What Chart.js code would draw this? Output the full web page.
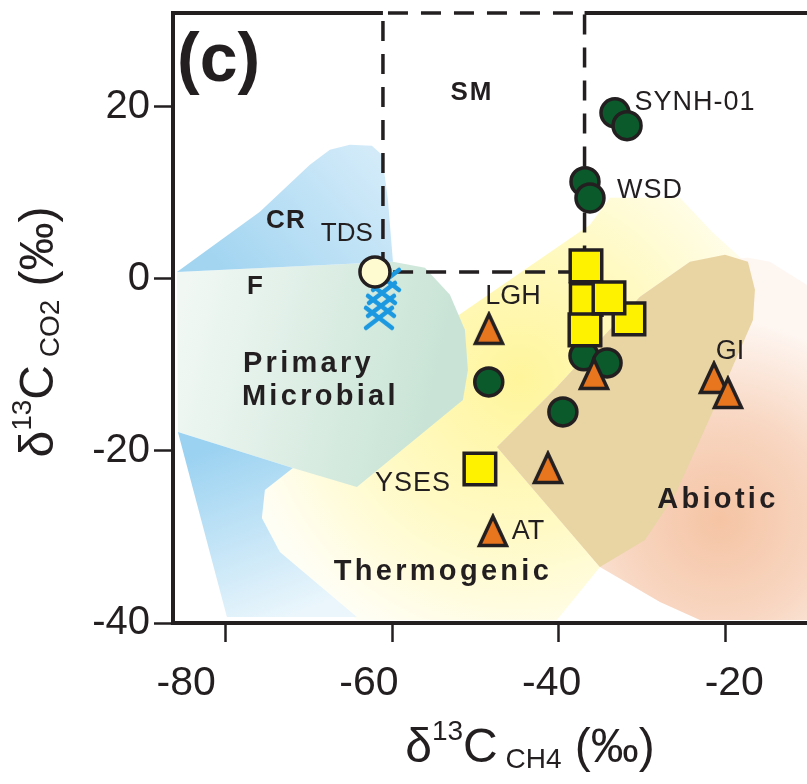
<!DOCTYPE html>
<html lang="en">
<head>
<meta charset="UTF-8">
<title>δ13C-CO2 vs δ13C-CH4 (c)</title>
<script src="https://cdn.jsdelivr.net/npm/chart.js"></script>
<style>
  html, body { margin: 0; padding: 0; background: #fff; }
</style>
</head>
<body>
<canvas id="grafico" width="807" height="784"></canvas>

<script>
// ---- axes ----
const xMin = -86.3, xMax = -10.2;
// the tick labels of the original figure sit slightly apart from the tick marks
const xLabelMin = -81.45, xLabelMax = -12.04;
const yMin = -40, yMax = 30.9;
const xTicks = [-80, -60, -40, -20];
const yTicks = [-40, -20, 0, 20];

// ---- samples: δ13C-CH4 (x) / δ13C-CO2 (y) ----
const circlesX = [-33.25, -31.8, -36.85, -36.25, -36.97, -34.2, -48.4, -39.5];
const circlesY = [19.3, 17.8, 11.3, 9.4, -8.95, -9.77, -11.98, -15.47];

const squaresX = [-36.7, -36.73, -36.85, -31.57, -33.97, -49.46];
const squaresY = [-2.4, 1.51, -5.93, -4.65, -2.21, -22.1];

const trianglesX = [-48.38, -35.77, -41.3, -47.9, -21.37, -19.69];
const trianglesY = [-5.81, -11.05, -21.98, -29.3, -11.51, -13.26];

const tdsX = [-62.06];
const tdsY = [0.81];

const crossX = [-60.74, -61.22, -61.34, -61.58];
const crossY = [-0.12, -1.63, -3.14, -4.53];

// ---- genetic fields (polygons) ----
const crX = [-85.83, -75.87, -69.87, -67.47, -65.07, -62.43, -61.22, -60.5, -59.9];
const crY = [0.81, 7.79, 13.26, 15.0, 15.58, 15.47, 14.42, 9.19, 1.98];

const crLowX = [-85.71, -71.91, -75.27, -75.63, -73.47, -64.23, -79.83];
const crLowY = [-17.79, -21.98, -24.53, -27.79, -31.74, -39.3, -39.3];

const microbialX = [-85.83, -59.9, -56.06, -53.06, -51.26, -50.9, -51.5, -64.23, -71.91, -85.71];
const microbialY = [0.81, 1.98, 1.28, -1.86, -5.93, -10.58, -14.07, -24.19, -21.98, -17.79];

const thermoX = [-73.47, -75.63, -75.27, -71.07, -54.26, -36.25, -33.85, -25.45, -21.61, -17.65, -23.05, -35.05, -40.22, -64.23];
const thermoY = [-31.74, -27.79, -24.53, -21.28, -5.7, 6.28, 9.42, 9.42, 5.47, 1.98, -14.07, -33.49, -39.65, -39.65];

const overlapX = [-47.42, -40.22, -30.25, -24.25, -20.05, -17.29, -16.45, -16.69, -18.25, -19.81, -23.05, -26.05, -29.65, -35.05];
const overlapY = [-19.53, -12.56, -2.09, 1.98, 2.79, 1.98, -1.28, -4.77, -8.26, -11.74, -18.72, -25.12, -30.35, -33.49];

const abioticX = [-35.05, -27.85, -23.05, -10.2, -10.2, -14.65, -17.29, -24.25, -30.25, -40.22, -47.42];
const abioticY = [-33.49, -37.56, -39.65, -39.65, -0.7, 1.98, 2.44, 1.98, -2.09, -12.56, -19.53];

// dashed SM box
const smX = [-61.1, -61.1, -36.9, -36.9, -61.1];
const smY = [0.8, 30.9, 30.9, 0.8, 0.8];

const C = '#231f20';
const FONT = '"Liberation Sans", Arial, sans-serif';
Chart.defaults.font.family = FONT;

const pts = (xs, ys) => xs.map((v, i) => ({ x: v, y: ys[i] }));

function gradLinear(x0, y0, x1, y1, stops) {
  return function (c) {
    const ch = c.chart;
    if (!ch.chartArea) return stops[0][1];
    const sx = ch.scales.x, sy = ch.scales.y;
    const g = ch.ctx.createLinearGradient(sx.getPixelForValue(x0), sy.getPixelForValue(y0),
                                          sx.getPixelForValue(x1), sy.getPixelForValue(y1));
    stops.forEach(s => g.addColorStop(s[0], s[1]));
    return g;
  };
}

function gradRadial(cx, cy, r, stops) {
  return function (c) {
    const ch = c.chart;
    if (!ch.chartArea) return stops[0][1];
    const sx = ch.scales.x, sy = ch.scales.y;
    const px = sx.getPixelForValue(cx), py = sy.getPixelForValue(cy);
    const rp = Math.abs(sx.getPixelForValue(cx + r) - px);
    const g = ch.ctx.createRadialGradient(px, py, 0, px, py, rp);
    stops.forEach(s => g.addColorStop(s[0], s[1]));
    return g;
  };
}

function region(label, xs, ys, color, order) {
  return {
    type: 'line', label: label, data: pts(xs, ys), xAxisID: 'x', yAxisID: 'y',
    fill: 'shape', backgroundColor: color, borderColor: 'rgba(0,0,0,0)', borderWidth: 0,
    pointRadius: 0, tension: 0, order: order
  };
}

// custom markers
function triangleImg() {
  const cv = document.createElement('canvas');
  cv.width = 34; cv.height = 36;
  const g = cv.getContext('2d');
  g.beginPath();
  g.moveTo(17, 3.5); g.lineTo(30.5, 32.5); g.lineTo(3.5, 32.5); g.closePath();
  g.fillStyle = '#e8761e'; g.fill();
  g.lineWidth = 3.5; g.strokeStyle = C; g.lineJoin = 'miter'; g.stroke();
  return cv;
}
function crossImg() {
  const cv = document.createElement('canvas');
  cv.width = 34; cv.height = 28;
  const g = cv.getContext('2d');
  g.strokeStyle = '#1b98e0'; g.lineWidth = 4.5; g.lineCap = 'round';
  g.beginPath();
  g.moveTo(4, 4); g.lineTo(30, 24);
  g.moveTo(30, 4); g.lineTo(4, 24);
  g.stroke();
  return cv;
}

// text written into the plot (data units)
const notes = [
  { t: 'SM', x: -50.42, y: 21.63, size: 26, bold: true, sp: 2 },
  { t: 'CR', x: -72.75, y: 6.74, size: 26, bold: true, sp: 1 },
  { t: 'TDS', x: -65.43, y: 5.23, size: 26 },
  { t: 'F', x: -76.47, y: -0.93, size: 26, bold: true },
  { t: 'Primary', x: -77.91, y: -9.88, size: 29, bold: true, sp: 3.3, left: true },
  { t: 'Microbial', x: -78.03, y: -13.72, size: 29, bold: true, sp: 3.3, left: true },
  { t: 'LGH', x: -45.5, y: -2.09, size: 27 },
  { t: 'YSES', x: -57.5, y: -23.84, size: 27, sp: 1 },
  { t: 'AT', x: -43.7, y: -29.42, size: 27 },
  { t: 'GI', x: -19.45, y: -8.49, size: 27 },
  { t: 'SYNH-01', x: -23.65, y: 20.47, size: 27, sp: 1 },
  { t: 'WSD', x: -29.05, y: 10.23, size: 27, sp: 1 },
  { t: 'Thermogenic', x: -53.9, y: -34.07, size: 29, bold: true, sp: 3.3 },
  { t: 'Abiotic', x: -20.89, y: -25.7, size: 29, bold: true, sp: 3.3 }
];

function drawRich(ctx, parts, cx, baseY) {
  let total = 0;
  parts.forEach(p => {
    ctx.font = p.size + 'px ' + FONT;
    p.w = ctx.measureText(p.t).width;
    total += p.w;
  });
  let x = cx - total / 2;
  parts.forEach(p => {
    ctx.font = p.size + 'px ' + FONT;
    ctx.fillText(p.t, x, baseY + (p.dy || 0));
    x += p.w;
  });
}

const decor = {
  id: 'decor',
  afterDatasetsDraw(chart) {
    const ctx = chart.ctx, sx = chart.scales.x, sy = chart.scales.y;
    notes.forEach(n => {
      ctx.save();
      ctx.fillStyle = C;
      ctx.font = (n.bold ? 'bold ' : '') + n.size + 'px ' + FONT;
      if (n.sp) ctx.letterSpacing = n.sp + 'px';
      ctx.textAlign = n.left ? 'left' : 'center';
      ctx.textBaseline = 'middle';
      ctx.fillText(n.t, sx.getPixelForValue(n.x), sy.getPixelForValue(n.y));
      ctx.restore();
    });
  },
  afterDraw(chart) {
    const ctx = chart.ctx, a = chart.chartArea, sx = chart.scales.x;
    ctx.save();
    // top frame (broken where the dashed SM box runs along it)
    ctx.strokeStyle = C;
    ctx.lineWidth = 4;
    ctx.beginPath();
    ctx.moveTo(a.left - 2, a.top);
    ctx.lineTo(sx.getPixelForValue(smX[0]), a.top);
    ctx.moveTo(sx.getPixelForValue(smX[2]), a.top);
    ctx.lineTo(a.right, a.top);
    ctx.stroke();

    // panel letter
    ctx.fillStyle = C;
    ctx.font = 'bold 68px ' + FONT;
    ctx.textAlign = 'left';
    ctx.textBaseline = 'alphabetic';
    ctx.fillText('(c)', a.left + 4, a.top + 68);

    // axis titles
    drawRich(ctx, [
      { t: 'δ', size: 48 },
      { t: '13', size: 28, dy: -22 },
      { t: 'C', size: 48 },
      { t: ' CH4', size: 28, dy: 6 },
      { t: ' (‰)', size: 48 }
    ], 530, 762);

    ctx.translate(53, 332);
    ctx.rotate(-Math.PI / 2);
    drawRich(ctx, [
      { t: 'δ', size: 48 },
      { t: '13', size: 28, dy: -22 },
      { t: 'C', size: 48 },
      { t: ' CO2', size: 28, dy: 6 },
      { t: ' (‰)', size: 48 }
    ], 0, 0);
    ctx.restore();
  }
};

const ctx = document.getElementById('grafico').getContext('2d');
new Chart(ctx, {
  type: 'scatter',
  data: {
    datasets: [
      region('Thermogenic', thermoX, thermoY,
        gradRadial(-44.7, -11.7, 34, [[0, '#fff59c'], [0.55, '#fffac6'], [1, '#fffef4']]), 20),
      region('Abiotic', abioticX, abioticY,
        gradRadial(-20.65, -28.02, 24, [[0, '#f5c4a4'], [0.5, '#f8d6c1'], [1, '#fef6f1']]), 19),
      region('Overlap', overlapX, overlapY, '#e9d4a4', 18),
      region('Primary Microbial', microbialX, microbialY,
        gradLinear(-85.8, -5, -55, -12, [[0, '#f1f8f4'], [1, '#c9e4d6']]), 17),
      region('CR', crX, crY,
        gradLinear(-63, 15.5, -80, 1, [[0, '#d3ebf9'], [1, '#a3d5f1']]), 16),
      region('CR low', crLowX, crLowY,
        gradLinear(-80, -19, -72, -39, [[0, '#9bd2f1'], [1, '#eaf6fc']]), 16),
      {
        type: 'line', label: 'SM', data: pts(smX, smY), xAxisID: 'x', yAxisID: 'y',
        borderColor: C, borderWidth: 3.5, borderDash: [20, 13], fill: false,
        pointRadius: 0, tension: 0, clip: false, order: 10
      },
      {
        label: 'blue crosses', data: pts(crossX, crossY), xAxisID: 'x', yAxisID: 'y',
        pointStyle: crossImg(), order: 6
      },
      {
        label: 'TDS', data: pts(tdsX, tdsY), xAxisID: 'x', yAxisID: 'y',
        pointStyle: 'circle', pointRadius: 15, borderWidth: 3.5,
        backgroundColor: '#fffbd0', borderColor: C, order: 5
      },
      {
        label: 'circles', data: pts(circlesX, circlesY), xAxisID: 'x', yAxisID: 'y',
        pointStyle: 'circle', pointRadius: 14, borderWidth: 3.5,
        backgroundColor: '#0b5a2c', borderColor: C, order: 4
      },
      {
        label: 'squares', data: pts(squaresX, squaresY), xAxisID: 'x', yAxisID: 'y',
        pointStyle: 'rect', pointRadius: 22.3, borderWidth: 3.5,
        backgroundColor: '#fff200', borderColor: C, order: 3
      },
      {
        label: 'triangles', data: pts(trianglesX, trianglesY), xAxisID: 'x', yAxisID: 'y',
        pointStyle: triangleImg(), order: 2
      }
    ]
  },
  options: {
    responsive: false,
    animation: false,
    events: [],
    layout: { autoPadding: false, padding: { top: 13, left: 0, right: 0, bottom: 0 } },
    plugins: { legend: { display: false }, tooltip: { enabled: false } },
    scales: {
      x: {
        type: 'linear', position: 'bottom', weight: 0, min: xMin, max: xMax, z: 1,
        afterBuildTicks: s => { s.ticks = xTicks.map(v => ({ value: v })); },
        afterFit: s => { s.height = 20; s.paddingLeft = 0; s.paddingRight = 0; },
        grid: { drawOnChartArea: false, drawTicks: true, tickLength: 19, tickWidth: 2.5, tickColor: C },
        border: { display: true, width: 4, color: C },
        ticks: { display: false }
      },
      x2: {
        type: 'linear', position: 'bottom', weight: 1, min: xLabelMin, max: xLabelMax,
        afterBuildTicks: s => { s.ticks = xTicks.map(v => ({ value: v })); },
        afterFit: s => { s.height = 141; s.paddingLeft = 0; s.paddingRight = 0; },
        grid: { display: false },
        border: { display: false },
        ticks: { font: { size: 41 }, color: C, padding: 8, maxRotation: 0, callback: v => String(v) }
      },
      y: {
        type: 'linear', position: 'left', min: yMin, max: yMax, z: 1,
        afterBuildTicks: s => { s.ticks = yTicks.map(v => ({ value: v })); },
        afterFit: s => { s.width = 173; s.paddingTop = 0; s.paddingBottom = 0; },
        grid: { drawOnChartArea: false, drawTicks: true, tickLength: 19, tickWidth: 2.5, tickColor: C },
        border: { display: true, width: 4, color: C },
        ticks: { font: { size: 40 }, color: C, padding: 4, callback: v => String(v) }
      }
    }
  },
  plugins: [decor]
});
</script>
</body>
</html>
